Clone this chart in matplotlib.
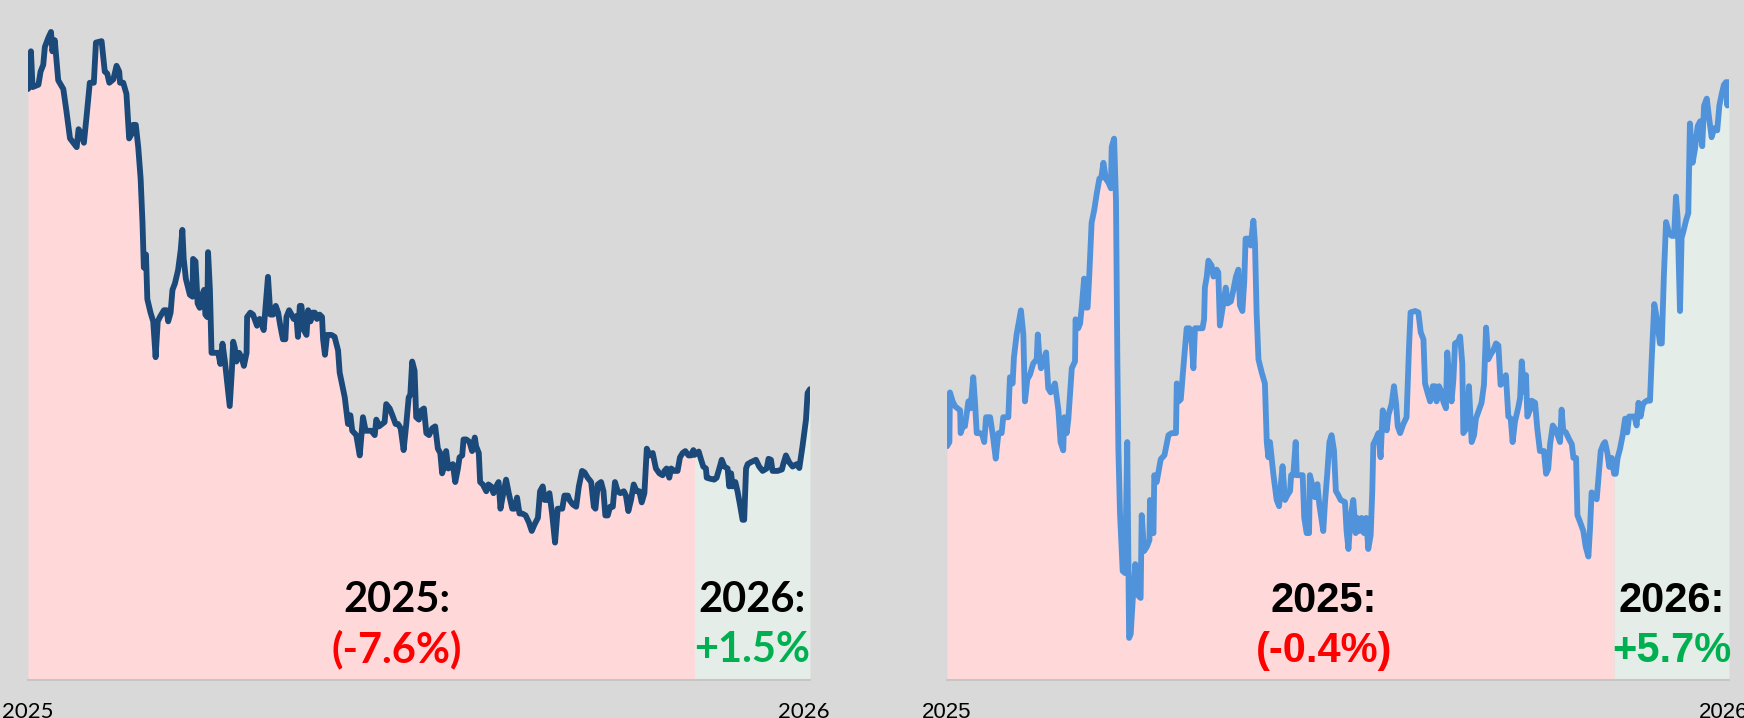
import matplotlib
matplotlib.use("Agg")
import matplotlib.pyplot as plt
import matplotlib.transforms as mtransforms

# trading-day index since the first session of 2025, and closing level
left_day = [
    0.0, 1.1, 1.7, 3.9, 4.7, 5.7, 6.3, 7.6, 8.6, 9.1, 10.0, 10.7, 11.3, 13.2, 14.4, 15.7,
    18.2, 18.9, 20.0, 20.9, 21.9, 23.1, 24.6, 25.4, 27.5, 28.7, 29.6, 30.4, 31.9, 33.1, 34.1,
    34.4, 35.6, 36.8, 37.8, 38.7, 39.3, 40.3, 41.2, 42.1, 42.8, 43.3, 44.1, 44.6, 45.8, 46.8,
    47.7, 48.5, 49.3, 50.8, 51.8, 52.4, 53.3, 54.0, 54.9, 56.1, 57.1, 57.7, 58.2, 59.0, 60.5,
    61.5, 61.7, 62.6, 63.4, 64.2, 65.1, 65.8, 66.3, 67.0, 67.3, 68.0, 68.6, 69.8, 71.1, 71.9,
    72.7, 73.6, 75.4, 76.2, 76.7, 77.3, 77.9, 78.9, 79.8, 80.7, 81.7, 81.9, 83.1, 84.1, 85.6,
    86.6, 87.3, 88.1, 88.9, 89.7, 90.6, 91.6, 92.6, 93.5, 94.3, 95.3, 96.2, 96.6, 97.6, 98.5,
    99.3, 100.3, 100.9, 101.6, 102.2, 103.1, 104.1, 104.7, 105.6, 106.3, 107.2, 108.0, 109.0,
    109.9, 110.3, 111.0, 111.8, 113.4, 114.6, 115.9, 116.5, 118.4, 119.6, 120.5, 121.2, 122.7,
    124.0, 125.2, 126.2, 128.3, 129.6, 130.2, 131.2, 133.3, 133.9, 135.2, 136.2, 137.4, 138.3,
    139.3, 140.4, 141.4, 142.3, 142.9, 143.6, 144.5, 145.1, 146.1, 147.0, 148.0, 148.9, 149.9,
    151.1, 152.2, 153.2, 154.1, 154.8, 155.8, 156.3, 157.1, 158.0, 158.8, 159.7, 160.7, 161.3,
    162.3, 162.8, 163.8, 165.0, 166.0, 167.0, 167.5, 168.5, 169.0, 170.0, 171.3, 172.1, 173.1,
    174.0, 175.0, 175.9, 176.6, 177.5, 178.7, 179.7, 181.0, 181.9, 182.8, 183.7, 184.7, 186.0,
    187.2, 188.3, 189.3, 190.6, 191.4, 192.4, 193.1, 193.9, 194.9, 195.9, 197.0, 198.0, 199.7,
    200.5, 201.8, 202.4, 203.6, 204.9, 205.9, 207.1, 208.0, 209.2, 210.5, 211.5, 212.1, 213.0,
    214.2, 215.1, 215.8, 216.7, 217.6, 218.6, 219.4, 220.4, 221.4, 222.7, 223.5, 224.4, 225.4,
    226.4, 227.5, 228.5, 229.4, 230.4, 231.3, 232.3, 233.5, 234.7, 236.0, 237.2, 237.9, 238.7,
    239.7, 240.4, 241.6, 242.8, 243.7, 244.7, 245.7, 246.9, 247.8, 248.7, 249.1, 250.7, 251.6,
    252.4, 253.4, 253.7, 254.9, 256.5, 257.4, 258.4, 259.3, 260.3, 261.5, 262.1, 262.8, 263.4,
    264.4, 265.2, 266.1, 267.1, 267.7, 268.4, 269.0, 270.2, 272.1, 273.3, 274.6, 276.1, 276.8,
    277.7, 278.3, 280.2, 281.8, 282.3, 283.3, 284.5, 285.8, 287.3, 288.3, 289.5, 290.8, 291.4,
    292.3,
]
left_close = [
    99.96, 100.74, 100.00, 100.05, 100.32, 100.46, 100.83, 101.02, 101.14, 100.74, 100.97,
    100.51, 100.14, 99.96, 99.49, 98.94, 98.76, 99.13, 99.03, 98.85, 99.40, 100.09, 100.09,
    100.92, 100.95, 100.32, 100.28, 100.09, 100.16, 100.44, 100.32, 100.09, 100.09, 99.86,
    98.94, 99.03, 99.22, 99.22, 98.76, 98.11, 97.19, 96.27, 96.54, 95.62, 95.34, 95.16, 94.42,
    95.16, 95.25, 95.39, 95.39, 95.16, 95.34, 95.81, 95.94, 96.22, 96.64, 97.05, 96.45, 96.04,
    95.71, 95.67, 96.45, 96.40, 95.53, 95.44, 95.71, 95.81, 95.30, 95.25, 96.59, 95.81, 94.51,
    94.51, 94.51, 94.28, 94.70, 94.33, 93.41, 94.14, 94.74, 94.61, 94.33, 94.51, 94.42, 94.24,
    94.51, 95.25, 95.34, 95.30, 95.07, 95.21, 95.11, 94.98, 95.53, 96.08, 95.30, 95.30, 95.48,
    95.34, 95.07, 94.79, 94.79, 95.25, 95.39, 95.30, 95.21, 95.27, 94.84, 95.48, 95.48, 94.98,
    94.88, 95.39, 95.16, 95.34, 95.34, 95.21, 95.30, 95.25, 94.79, 94.47, 94.88, 94.88, 94.84,
    94.56, 94.10, 93.59, 93.04, 93.22, 92.90, 92.81, 92.39, 93.18, 92.90, 92.90, 92.81, 93.13,
    92.99, 93.08, 93.45, 93.36, 93.22, 93.04, 93.04, 92.95, 92.50, 93.04, 93.59, 93.64, 94.33,
    94.14, 93.18, 93.13, 93.32, 93.36, 92.85, 92.81, 92.95, 92.99, 92.53, 92.44, 92.02, 92.21,
    92.48, 92.12, 92.16, 92.21, 91.84, 92.12, 92.35, 92.39, 92.72, 92.72, 92.67, 92.48, 92.76,
    92.58, 92.44, 91.84, 91.79, 91.65, 91.79, 91.75, 91.61, 91.75, 91.84, 91.29, 91.56, 91.89,
    91.61, 91.29, 91.29, 91.52, 91.19, 91.19, 91.15, 91.01, 90.83, 90.96, 91.10, 91.65, 91.75,
    91.47, 91.47, 91.61, 91.19, 90.59, 91.29, 91.29, 91.56, 91.56, 91.47, 91.38, 91.33, 91.75,
    92.07, 92.04, 91.93, 91.84, 91.33, 91.29, 91.79, 91.84, 91.65, 91.15, 91.15, 91.33, 91.33,
    91.84, 91.65, 91.61, 91.65, 91.56, 91.24, 91.47, 91.79, 91.65, 91.65, 91.42, 91.61, 92.53,
    92.39, 92.44, 92.12, 92.02, 91.98, 92.07, 92.12, 91.93, 92.12, 92.07, 92.07, 92.35, 92.44,
    92.48, 92.39, 92.39, 92.50, 92.40, 92.47, 92.30, 92.16, 92.12, 91.93, 91.91, 91.89, 91.93,
    92.12, 92.30, 92.16, 92.12, 91.75, 92.02, 91.75, 91.84, 91.65, 91.38, 91.06, 91.06, 92.12,
    92.21, 92.25, 92.30, 92.16, 92.07, 92.12, 92.32, 92.30, 92.07, 92.07, 92.10, 92.21, 92.39,
    92.25, 92.16, 92.21, 92.13, 92.58, 93.13, 93.68, 93.76,
]

right_day = [
    0.0, 0.9, 1.1, 2.1, 3.0, 3.9, 4.9, 5.1, 5.9, 6.7, 8.0, 8.8, 9.8, 10.5, 11.1, 12.3, 13.2,
    13.9, 14.6, 16.1, 17.1, 18.2, 19.2, 20.4, 21.0, 22.9, 23.5, 24.5, 25.0, 26.0, 27.6, 28.5,
    29.1, 30.0, 31.0, 32.2, 33.5, 33.9, 34.5, 35.1, 36.0, 37.0, 37.8, 38.7, 40.3, 41.6, 42.4,
    43.4, 43.8, 44.7, 45.3, 46.6, 47.8, 48.0, 49.0, 49.7, 50.3, 51.2, 51.9, 52.5, 53.1, 54.0,
    55.0, 55.9, 56.9, 57.6, 58.4, 59.3, 60.3, 61.2, 61.5, 62.4, 63.1, 63.6, 64.0, 64.6, 65.6,
    66.5, 67.3, 68.0, 68.6, 69.3, 70.3, 71.5, 72.3, 72.7, 73.6, 74.6, 75.6, 75.8, 76.6, 77.1,
    77.4, 78.3, 79.8, 81.2, 82.7, 83.9, 85.5, 85.8, 86.5, 87.3, 88.3, 89.5, 90.5, 91.4, 92.0,
    92.6, 94.2, 95.4, 96.0, 96.3, 97.0, 97.6, 98.8, 99.5, 100.7, 101.3, 101.9, 103.2, 104.1,
    104.8, 106.0, 106.9, 107.9, 108.8, 109.4, 110.3, 111.0, 111.5, 112.5, 113.4, 114.4, 115.0,
    115.6, 116.3, 117.5, 118.7, 119.4, 120.0, 120.6, 121.9, 123.1, 124.0, 124.6, 125.3, 126.2,
    127.1, 128.1, 128.5, 129.3, 130.2, 130.6, 132.8, 133.4, 134.3, 135.2, 135.5, 136.5, 137.4,
    138.3, 139.0, 139.9, 140.5, 141.1, 142.0, 142.8, 143.6, 144.5, 145.2, 146.1, 147.0, 148.6,
    149.2, 149.9, 150.7, 151.7, 152.6, 153.2, 154.0, 154.8, 155.7, 156.5, 157.3, 158.2, 158.8,
    159.2, 160.1, 161.1, 161.9, 162.7, 163.6, 164.2, 164.8, 166.0, 166.9, 167.7, 168.3, 169.2,
    170.4, 171.6, 172.5, 173.1, 174.8, 176.0, 176.9, 177.9, 178.5, 179.4, 180.4, 181.4, 182.2,
    182.8, 183.7, 184.7, 185.3, 186.3, 186.8, 187.6, 188.4, 189.1, 189.7, 190.9, 191.6, 192.4,
    192.8, 194.0, 194.9, 195.9, 196.8, 197.5, 198.4, 199.6, 200.5, 201.3, 202.1, 203.0, 204.0,
    205.0, 205.9, 206.7, 207.7, 208.7, 209.6, 210.5, 211.2, 212.1, 213.3, 214.0, 214.6, 215.5,
    216.2, 216.7, 217.7, 218.3, 219.6, 220.4, 221.4, 222.9, 223.7, 224.5, 225.2, 226.2, 227.4,
    228.3, 228.9, 229.5, 230.1, 231.1, 232.3, 233.3, 233.9, 234.9, 235.4, 236.4, 237.6, 238.5,
    239.5, 240.1, 240.7, 241.6, 242.6, 244.1, 245.1, 245.7, 246.6, 247.3, 248.2, 249.1, 249.7,
    250.4, 251.3, 252.3, 253.2, 254.0, 254.7, 255.7, 256.7, 257.5, 258.2, 259.0, 259.8, 260.3,
    261.3, 262.5, 263.1, 264.1, 265.2, 266.2, 266.9, 267.7, 268.5, 269.6, 270.6, 271.5, 272.2,
    272.8, 273.7, 274.3, 275.0, 276.0, 276.8, 277.4, 278.4, 279.3, 280.3, 281.2, 282.0, 282.7,
    283.7, 284.5, 285.5, 286.5, 287.6, 288.4, 289.3, 290.1, 290.9, 291.4, 292.0,
]
right_close = [
    100.00, 100.06, 100.78, 100.65, 100.58, 100.55, 100.52, 100.19, 100.29, 100.29, 100.65,
    100.55, 101.00, 100.61, 100.19, 100.19, 100.16, 100.06, 100.42, 100.42, 100.16, 99.82,
    100.19, 100.19, 100.42, 100.42, 101.00, 100.91, 101.29, 101.62, 101.97, 101.62, 100.65,
    100.97, 101.04, 101.20, 101.26, 101.62, 101.29, 101.13, 101.23, 101.36, 100.84, 100.78,
    100.91, 100.52, 100.06, 99.94, 100.42, 100.19, 100.39, 101.13, 101.23, 101.84, 101.71,
    101.78, 102.01, 102.43, 102.01, 102.01, 102.46, 103.24, 103.43, 103.66, 103.88, 103.89,
    104.11, 103.88, 103.82, 103.74, 104.34, 104.46, 103.56, 101.29, 99.94, 99.03, 98.19, 98.16,
    100.06, 97.22, 97.28, 97.74, 98.29, 97.83, 97.80, 99.00, 98.48, 98.54, 98.64, 99.22, 98.77,
    98.74, 99.58, 99.48, 99.81, 99.87, 100.16, 100.19, 100.19, 100.91, 100.65, 100.68, 101.16,
    101.71, 101.71, 101.49, 101.13, 101.71, 101.71, 101.71, 101.84, 102.30, 102.46, 102.69,
    102.62, 102.46, 102.56, 102.52, 101.75, 102.07, 102.30, 102.07, 102.10, 102.26, 102.46,
    102.56, 102.04, 101.96, 102.39, 103.01, 103.01, 102.91, 103.27, 102.94, 101.94, 101.26,
    101.07, 100.91, 100.06, 99.84, 100.06, 99.58, 99.22, 99.13, 99.42, 99.71, 99.22, 99.29,
    99.35, 99.58, 99.58, 100.06, 99.58, 99.58, 98.96, 98.74, 98.74, 99.58, 99.42, 99.26, 99.45,
    99.16, 98.93, 98.77, 99.16, 99.61, 100.06, 100.16, 99.94, 99.35, 99.29, 99.22, 99.19,
    98.77, 98.51, 98.96, 99.22, 98.74, 98.96, 98.77, 98.96, 98.74, 98.96, 98.51, 98.71, 99.35,
    100.03, 100.10, 100.19, 99.84, 100.52, 100.36, 100.23, 100.45, 100.61, 100.87, 100.61,
    100.29, 100.19, 100.32, 100.42, 101.42, 101.94, 101.96, 101.94, 101.65, 101.55, 100.91,
    100.78, 100.65, 100.87, 100.87, 100.65, 100.87, 100.78, 100.65, 100.55, 101.36, 100.94,
    100.65, 100.97, 101.49, 101.52, 101.59, 101.20, 100.19, 100.26, 100.87, 100.06, 100.16,
    100.40, 100.50, 100.63, 100.89, 101.72, 101.26, 101.33, 101.39, 101.49, 101.46, 100.89,
    100.93, 101.03, 100.43, 100.40, 100.06, 100.36, 100.56, 100.70, 101.23, 100.79, 101.03,
    100.43, 100.53, 100.66, 100.63, 100.26, 99.93, 99.93, 99.60, 99.67, 100.03, 100.30, 100.23,
    100.13, 100.06, 100.53, 100.23, 100.20, 100.10, 100.03, 99.83, 99.83, 99.00, 98.90, 98.77,
    98.54, 98.40, 98.80, 99.33, 99.30, 99.23, 99.93, 100.03, 100.06, 99.90, 99.70, 99.83,
    99.60, 99.60, 99.83, 99.96, 100.16, 100.40, 100.20, 100.43, 100.43, 100.43, 100.30, 100.63,
    100.43, 100.60, 100.63, 100.66, 100.66, 101.23, 102.06, 101.82, 101.49, 101.49, 102.49,
    103.25, 103.09, 103.05, 103.05, 103.62, 103.32, 101.96, 103.02, 103.12, 103.28, 103.38,
    104.68, 104.11, 104.31, 104.64, 104.71, 104.35, 104.94, 105.04, 104.78, 104.48, 104.61,
    104.58, 104.94, 105.11, 105.24, 105.28, 104.94, 105.28,
]

year_end_day = 249.1          # last session of 2025
tick_days = [0, 290]
tick_labels = ["2025", "2026"]
left_returns = ["(-7.6%)", "+1.5%"]
right_returns = ["(-0.4%)", "+5.7%"]

BG = "#d9d9d9"
PINK = "#ffd9d9"
GREEN = "#e4ede8"
RED = "#ff0000"
GRN_TXT = "#00b050"

fig = plt.figure(figsize=(17.44, 7.18), dpi=100, facecolor=BG)
ax1 = fig.add_axes([28 / 1744, 38 / 718, 782 / 1744, 680 / 718])
ax2 = fig.add_axes([947 / 1744, 38 / 718, 782 / 1744, 680 / 718])


def panel(ax, days, close, ylo, yhi, color, font, weight, returns, label_day):
    ax.set_facecolor(BG)
    old = [d <= year_end_day for d in days]
    new = [d >= year_end_day for d in days]
    ax.fill_between(days, close, ylo, where=old, color=PINK, lw=0, zorder=1)
    ax.fill_between(days, close, ylo, where=new, color=GREEN, lw=0, zorder=1)
    ax.plot(days, close, color=color, lw=4.2, solid_joinstyle="round",
            solid_capstyle="round", zorder=3)
    ax.set_xlim(0, days[-1])
    ax.set_ylim(ylo, yhi)
    ax.set_yticks([])
    ax.set_xticks(tick_days)
    ax.set_xticklabels(tick_labels, fontsize=16, family=font)
    ax.tick_params(axis="x", length=0, pad=16)
    for s in ["top", "left", "right"]:
        ax.spines[s].set_visible(False)
    ax.spines["bottom"].set_color("#c6c6c6")
    ax.spines["bottom"].set_linewidth(1.5)

    tr = mtransforms.blended_transform_factory(ax.transData, ax.transAxes)
    mid_new = (year_end_day + days[-1]) / 2
    kw = dict(transform=tr, ha="center", va="baseline", fontsize=30,
              family=font, fontweight=weight, zorder=4)
    ax.text(label_day, 0.10, "2025:", color="black", **kw)
    ax.text(label_day, 0.026, returns[0], color=RED, **kw)
    ax.text(mid_new, 0.10, "2026:", color="black", **kw)
    ax.text(mid_new, 0.026, returns[1], color=GRN_TXT, **kw)


panel(ax1, left_day, left_close, 87.75, 101.80, "#1b4a7a", "Lato", "bold",
      left_returns, 137.8)
panel(ax2, right_day, right_close, 96.61, 106.47, "#5193db", "Liberation Sans", "bold",
      right_returns, 140.8)

fig.savefig("out.png", dpi=100, facecolor=BG)
